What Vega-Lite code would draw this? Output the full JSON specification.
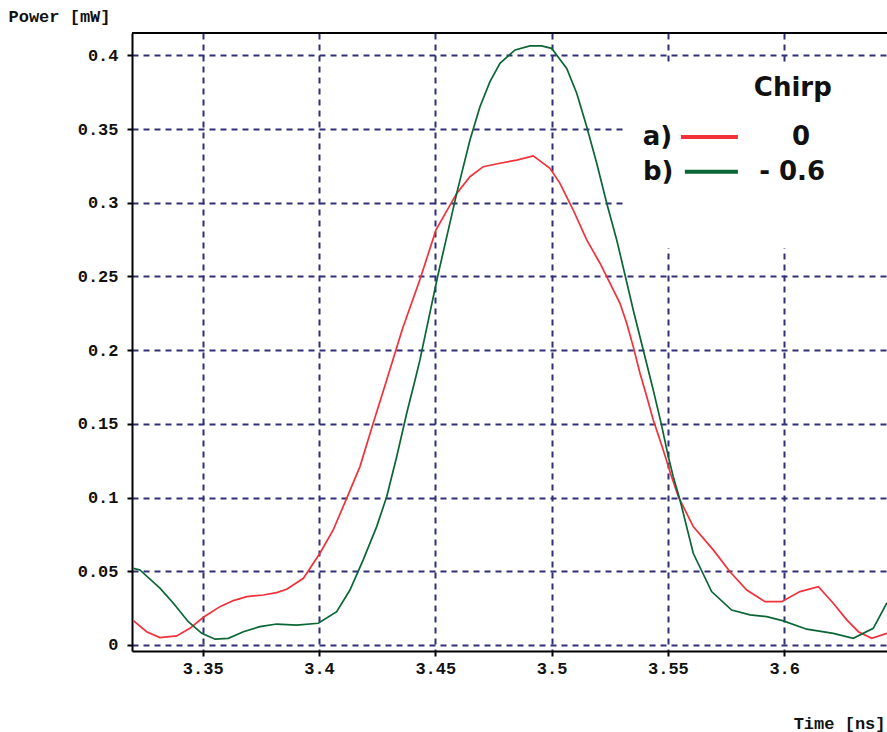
{
  "$schema": "https://vega.github.io/schema/vega-lite/v6.json",
  "width": 755,
  "height": 618,
  "autosize": {"type": "none"},
  "padding": {"left": 132, "top": 33, "right": 0, "bottom": 81},
  "background": "#ffffff",
  "config": {
    "view": {"stroke": null},
    "axis": {
      "domainColor": "#000000",
      "domainWidth": 2,
      "tickColor": "#000000",
      "tickWidth": 2,
      "tickSize": 5,
      "gridColor": "#30307a",
      "gridDash": [6, 5],
      "gridWidth": 2,
      "labelFont": "Liberation Mono",
      "labelFontWeight": "bold",
      "labelFontSize": 17,
      "labelColor": "#111111",
      "labelFlush": false,
      "labelOverlap": false,
      "titleFont": "Liberation Mono",
      "titleFontWeight": "bold",
      "titleFontSize": 17,
      "titleColor": "#111111"
    }
  },
  "datasets": {
    "curves": [
      {"t": 3.3202, "p": 0.0165, "chirp": "0"},
      {"t": 3.3259, "p": 0.0090, "chirp": "0"},
      {"t": 3.3316, "p": 0.0050, "chirp": "0"},
      {"t": 3.3388, "p": 0.0061, "chirp": "0"},
      {"t": 3.3445, "p": 0.0113, "chirp": "0"},
      {"t": 3.3503, "p": 0.0188, "chirp": "0"},
      {"t": 3.3574, "p": 0.0260, "chirp": "0"},
      {"t": 3.3632, "p": 0.0301, "chirp": "0"},
      {"t": 3.3689, "p": 0.0328, "chirp": "0"},
      {"t": 3.3761, "p": 0.0339, "chirp": "0"},
      {"t": 3.3818, "p": 0.0355, "chirp": "0"},
      {"t": 3.3861, "p": 0.0378, "chirp": "0"},
      {"t": 3.3933, "p": 0.0452, "chirp": "0"},
      {"t": 3.4004, "p": 0.0622, "chirp": "0"},
      {"t": 3.4061, "p": 0.0780, "chirp": "0"},
      {"t": 3.4119, "p": 0.0995, "chirp": "0"},
      {"t": 3.4176, "p": 0.1210, "chirp": "0"},
      {"t": 3.4233, "p": 0.1504, "chirp": "0"},
      {"t": 3.4291, "p": 0.1798, "chirp": "0"},
      {"t": 3.4360, "p": 0.2150, "chirp": "0"},
      {"t": 3.4434, "p": 0.2480, "chirp": "0"},
      {"t": 3.4503, "p": 0.2816, "chirp": "0"},
      {"t": 3.4592, "p": 0.3064, "chirp": "0"},
      {"t": 3.4649, "p": 0.3177, "chirp": "0"},
      {"t": 3.4706, "p": 0.3245, "chirp": "0"},
      {"t": 3.4778, "p": 0.3268, "chirp": "0"},
      {"t": 3.4850, "p": 0.3290, "chirp": "0"},
      {"t": 3.4921, "p": 0.3318, "chirp": "0"},
      {"t": 3.4993, "p": 0.3234, "chirp": "0"},
      {"t": 3.5036, "p": 0.3132, "chirp": "0"},
      {"t": 3.5093, "p": 0.2951, "chirp": "0"},
      {"t": 3.5151, "p": 0.2748, "chirp": "0"},
      {"t": 3.5208, "p": 0.2590, "chirp": "0"},
      {"t": 3.5237, "p": 0.2499, "chirp": "0"},
      {"t": 3.5294, "p": 0.2318, "chirp": "0"},
      {"t": 3.5323, "p": 0.2183, "chirp": "0"},
      {"t": 3.5351, "p": 0.2024, "chirp": "0"},
      {"t": 3.5380, "p": 0.1843, "chirp": "0"},
      {"t": 3.5409, "p": 0.1685, "chirp": "0"},
      {"t": 3.5437, "p": 0.1527, "chirp": "0"},
      {"t": 3.5480, "p": 0.1323, "chirp": "0"},
      {"t": 3.5512, "p": 0.1160, "chirp": "0"},
      {"t": 3.5545, "p": 0.1006, "chirp": "0"},
      {"t": 3.5609, "p": 0.0803, "chirp": "0"},
      {"t": 3.5695, "p": 0.0645, "chirp": "0"},
      {"t": 3.5767, "p": 0.0497, "chirp": "0"},
      {"t": 3.5839, "p": 0.0373, "chirp": "0"},
      {"t": 3.5917, "p": 0.0294, "chirp": "0"},
      {"t": 3.5989, "p": 0.0294, "chirp": "0"},
      {"t": 3.6068, "p": 0.0362, "chirp": "0"},
      {"t": 3.6147, "p": 0.0396, "chirp": "0"},
      {"t": 3.6211, "p": 0.0283, "chirp": "0"},
      {"t": 3.6269, "p": 0.0170, "chirp": "0"},
      {"t": 3.6319, "p": 0.0090, "chirp": "0"},
      {"t": 3.6376, "p": 0.0045, "chirp": "0"},
      {"t": 3.6442, "p": 0.0079, "chirp": "0"},
      {"t": 3.3202, "p": 0.0520, "chirp": "-0.6"},
      {"t": 3.3230, "p": 0.0509, "chirp": "-0.6"},
      {"t": 3.3316, "p": 0.0385, "chirp": "-0.6"},
      {"t": 3.3374, "p": 0.0283, "chirp": "-0.6"},
      {"t": 3.3438, "p": 0.0158, "chirp": "-0.6"},
      {"t": 3.3496, "p": 0.0079, "chirp": "-0.6"},
      {"t": 3.3553, "p": 0.0039, "chirp": "-0.6"},
      {"t": 3.3610, "p": 0.0045, "chirp": "-0.6"},
      {"t": 3.3675, "p": 0.0090, "chirp": "-0.6"},
      {"t": 3.3746, "p": 0.0124, "chirp": "-0.6"},
      {"t": 3.3818, "p": 0.0142, "chirp": "-0.6"},
      {"t": 3.3904, "p": 0.0134, "chirp": "-0.6"},
      {"t": 3.3997, "p": 0.0147, "chirp": "-0.6"},
      {"t": 3.4076, "p": 0.0226, "chirp": "-0.6"},
      {"t": 3.4133, "p": 0.0373, "chirp": "-0.6"},
      {"t": 3.4190, "p": 0.0577, "chirp": "-0.6"},
      {"t": 3.4248, "p": 0.0803, "chirp": "-0.6"},
      {"t": 3.4291, "p": 0.1006, "chirp": "-0.6"},
      {"t": 3.4334, "p": 0.1277, "chirp": "-0.6"},
      {"t": 3.4377, "p": 0.1572, "chirp": "-0.6"},
      {"t": 3.4413, "p": 0.1798, "chirp": "-0.6"},
      {"t": 3.4434, "p": 0.1934, "chirp": "-0.6"},
      {"t": 3.4510, "p": 0.2500, "chirp": "-0.6"},
      {"t": 3.4592, "p": 0.3064, "chirp": "-0.6"},
      {"t": 3.4649, "p": 0.3426, "chirp": "-0.6"},
      {"t": 3.4692, "p": 0.3652, "chirp": "-0.6"},
      {"t": 3.4735, "p": 0.3822, "chirp": "-0.6"},
      {"t": 3.4778, "p": 0.3946, "chirp": "-0.6"},
      {"t": 3.4843, "p": 0.4037, "chirp": "-0.6"},
      {"t": 3.4907, "p": 0.4064, "chirp": "-0.6"},
      {"t": 3.4957, "p": 0.4064, "chirp": "-0.6"},
      {"t": 3.5000, "p": 0.4048, "chirp": "-0.6"},
      {"t": 3.5065, "p": 0.3912, "chirp": "-0.6"},
      {"t": 3.5108, "p": 0.3743, "chirp": "-0.6"},
      {"t": 3.5151, "p": 0.3516, "chirp": "-0.6"},
      {"t": 3.5194, "p": 0.3268, "chirp": "-0.6"},
      {"t": 3.5237, "p": 0.2997, "chirp": "-0.6"},
      {"t": 3.5280, "p": 0.2748, "chirp": "-0.6"},
      {"t": 3.5318, "p": 0.2495, "chirp": "-0.6"},
      {"t": 3.5351, "p": 0.2273, "chirp": "-0.6"},
      {"t": 3.5394, "p": 0.2001, "chirp": "-0.6"},
      {"t": 3.5437, "p": 0.1730, "chirp": "-0.6"},
      {"t": 3.5470, "p": 0.1510, "chirp": "-0.6"},
      {"t": 3.5502, "p": 0.1277, "chirp": "-0.6"},
      {"t": 3.5523, "p": 0.1142, "chirp": "-0.6"},
      {"t": 3.5552, "p": 0.0984, "chirp": "-0.6"},
      {"t": 3.5609, "p": 0.0622, "chirp": "-0.6"},
      {"t": 3.5688, "p": 0.0362, "chirp": "-0.6"},
      {"t": 3.5774, "p": 0.0237, "chirp": "-0.6"},
      {"t": 3.5853, "p": 0.0204, "chirp": "-0.6"},
      {"t": 3.5925, "p": 0.0192, "chirp": "-0.6"},
      {"t": 3.5996, "p": 0.0163, "chirp": "-0.6"},
      {"t": 3.6097, "p": 0.0107, "chirp": "-0.6"},
      {"t": 3.6211, "p": 0.0079, "chirp": "-0.6"},
      {"t": 3.6297, "p": 0.0045, "chirp": "-0.6"},
      {"t": 3.6383, "p": 0.0113, "chirp": "-0.6"},
      {"t": 3.6442, "p": 0.0287, "chirp": "-0.6"}
    ]
  },
  "layer": [
    {
      "data": {"name": "curves"},
      "mark": {"type": "line", "strokeWidth": 1.7, "clip": true},
      "encoding": {
        "x": {
          "field": "t",
          "type": "quantitative",
          "scale": {"domain": [3.3196, 3.6442], "nice": false, "zero": false},
          "axis": {
            "values": [3.35, 3.4, 3.45, 3.5, 3.55, 3.6],
            "format": "~g",
            "labelPadding": 4,
            "title": "Time [ns]",
            "titleAlign": "right",
            "titleBaseline": "middle",
            "titleAnchor": "end",
            "titleX": 753,
            "titleY": 72
          }
        },
        "y": {
          "field": "p",
          "type": "quantitative",
          "scale": {"domain": [-0.0041, 0.4152], "nice": false, "zero": false},
          "axis": {
            "values": [0, 0.05, 0.1, 0.15, 0.2, 0.25, 0.3, 0.35, 0.4],
            "format": "~g",
            "labelPadding": 9,
            "title": "Power [mW]",
            "titleAngle": 0,
            "titleAlign": "left",
            "titleBaseline": "middle",
            "titleX": -124,
            "titleY": -17
          }
        },
        "color": {
          "field": "chirp",
          "type": "nominal",
          "scale": {"domain": ["0", "-0.6"], "range": ["#f2303a", "#0a6634"]},
          "legend": null
        }
      }
    },
    {
      "data": {"values": [{}]},
      "mark": {"type": "rule", "color": "#000000", "strokeWidth": 2},
      "encoding": {
        "y": {"datum": 0.4152, "type": "quantitative", "scale": {"domain": [-0.0041, 0.4152], "nice": false, "zero": false}}
      }
    },
    {
      "data": {"values": [{}]},
      "mark": {"type": "rect", "fill": "#ffffff", "clip": true},
      "encoding": {
        "x": {"datum": 3.5316, "type": "quantitative", "scale": {"domain": [3.3196, 3.6442], "nice": false, "zero": false}},
        "x2": {"datum": 3.70},
        "y": {"datum": 0.2693, "type": "quantitative", "scale": {"domain": [-0.0041, 0.4152], "nice": false, "zero": false}},
        "y2": {"datum": 0.3955}
      }
    },
    {
      "data": {"values": [{}]},
      "mark": {"type": "text", "text": "Chirp", "font": "DejaVu Sans", "fontWeight": "bold", "fontSize": 26, "align": "center", "baseline": "middle", "color": "#111111"},
      "encoding": {
        "x": {"datum": 3.6037, "type": "quantitative"},
        "y": {"datum": 0.3779, "type": "quantitative"}
      }
    },
    {
      "data": {"values": [{}]},
      "mark": {"type": "text", "text": "a)", "font": "DejaVu Sans", "fontWeight": "bold", "fontSize": 26, "align": "left", "baseline": "middle", "color": "#111111"},
      "encoding": {
        "x": {"datum": 3.5392, "type": "quantitative"},
        "y": {"datum": 0.3446, "type": "quantitative"}
      }
    },
    {
      "data": {"values": [{}]},
      "mark": {"type": "text", "text": "b)", "font": "DejaVu Sans", "fontWeight": "bold", "fontSize": 26, "align": "left", "baseline": "middle", "color": "#111111"},
      "encoding": {
        "x": {"datum": 3.5393, "type": "quantitative"},
        "y": {"datum": 0.3211, "type": "quantitative"}
      }
    },
    {
      "data": {"values": [{}]},
      "mark": {"type": "text", "text": "0", "font": "DejaVu Sans", "fontWeight": "bold", "fontSize": 26, "align": "center", "baseline": "middle", "color": "#111111"},
      "encoding": {
        "x": {"datum": 3.6072, "type": "quantitative"},
        "y": {"datum": 0.3446, "type": "quantitative"}
      }
    },
    {
      "data": {"values": [{}]},
      "mark": {"type": "text", "text": "- 0.6", "font": "DejaVu Sans", "fontWeight": "bold", "fontSize": 26, "align": "center", "baseline": "middle", "color": "#111111"},
      "encoding": {
        "x": {"datum": 3.6034, "type": "quantitative"},
        "y": {"datum": 0.3211, "type": "quantitative"}
      }
    },
    {
      "data": {"values": [{}]},
      "mark": {"type": "rule", "strokeWidth": 4, "color": "#f2303a"},
      "encoding": {
        "x": {"datum": 3.5556, "type": "quantitative"},
        "x2": {"datum": 3.5801},
        "y": {"datum": 0.3446, "type": "quantitative"}
      }
    },
    {
      "data": {"values": [{}]},
      "mark": {"type": "rule", "strokeWidth": 4, "color": "#0a6634"},
      "encoding": {
        "x": {"datum": 3.5573, "type": "quantitative"},
        "x2": {"datum": 3.5801},
        "y": {"datum": 0.3211, "type": "quantitative"}
      }
    }
  ]
}
